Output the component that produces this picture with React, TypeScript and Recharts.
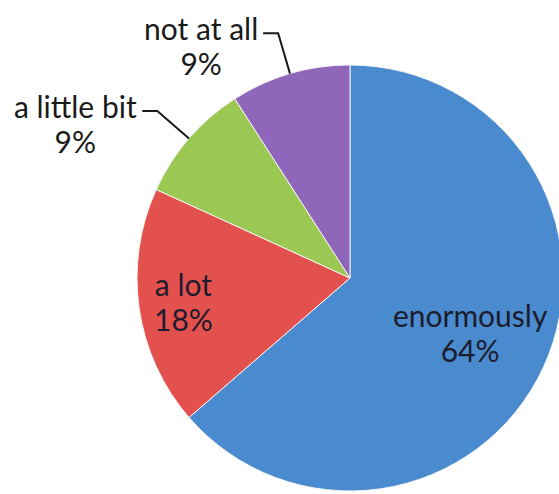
import React from 'react';
import { PieChart, Pie, Cell } from 'recharts';

const categories = ['enormously', 'a lot', 'a little bit', 'not at all'];
const counts = [7, 2, 1, 1];
const colors = ['#4A8BD0', '#E3514E', '#9BC853', '#9066BB'];

const data = categories.map((name, i) => ({ name, value: counts[i] }));

const RAD = Math.PI / 180;
const FONT = 'Lato, "Open Sans", sans-serif';
const FONT_SIZE = 30;
const LINE_GAP = 35;

// how each label is placed: inside at a fraction of the radius, or outside with an elbow leader
const labelPlacement: Record<string, any> = {
  enormously: { inside: true, r: 0.62 },
  'a lot': { inside: true, r: 0.79 },
  'a little bit': { inside: false, leader: 42, arm: 15, halfWidth: 61 },
  'not at all': { inside: false, leader: 42, arm: 15, halfWidth: 56 },
};

const renderLabel = (props: any) => {
  const { cx, cy, midAngle, outerRadius, name, percent } = props;
  const cfg = labelPlacement[name];
  const pct = `${Math.round(percent * 100)}%`;
  const cos = Math.cos(-midAngle * RAD);
  const sin = Math.sin(-midAngle * RAD);
  if (cfg.inside) {
    const x = cx + outerRadius * cfg.r * cos;
    const y = cy + outerRadius * cfg.r * sin;
    return (
      <text x={x} textAnchor="middle" fill="#1c1c2c" fontFamily={FONT} fontSize={FONT_SIZE}>
        <tspan x={x} y={y - LINE_GAP / 2} dominantBaseline="central">{name}</tspan>
        <tspan x={x} y={y + LINE_GAP / 2} dominantBaseline="central">{pct}</tspan>
      </text>
    );
  }
  const ex = cx + outerRadius * cos;
  const ey = cy + outerRadius * sin;
  const kx = cx + (outerRadius + cfg.leader) * cos;
  const ky = cy + (outerRadius + cfg.leader) * sin;
  const lx = kx - cfg.arm;
  const tx = lx - 6 - cfg.halfWidth;
  const ty = ky - 5;
  return (
    <g>
      <polyline points={`${ex},${ey} ${kx},${ky} ${lx},${ky}`} fill="none" stroke="#1a1a1a" strokeWidth={2} />
      <text x={tx} textAnchor="middle" fill="#1a1a1a" fontFamily={FONT} fontSize={FONT_SIZE}>
        <tspan x={tx} y={ty} dominantBaseline="central">{name}</tspan>
        <tspan x={tx} y={ty + LINE_GAP} dominantBaseline="central">{pct}</tspan>
      </text>
    </g>
  );
};

export default function App() {
  return (
    <div style={{ position: 'fixed', left: 0, top: 0, width: 559, height: 494, background: '#fff' }}>
      <PieChart width={559} height={494}>
        <Pie
          data={data}
          dataKey="value"
          nameKey="name"
          cx={345}
          cy={273}
          outerRadius={213}
          startAngle={90}
          endAngle={-270}
          stroke="#f4f4f4"
          strokeWidth={1}
          label={renderLabel}
          labelLine={false}
          isAnimationActive={false}
        >
          {data.map((d, i) => (
            <Cell key={d.name} fill={colors[i]} />
          ))}
        </Pie>
      </PieChart>
    </div>
  );
}
